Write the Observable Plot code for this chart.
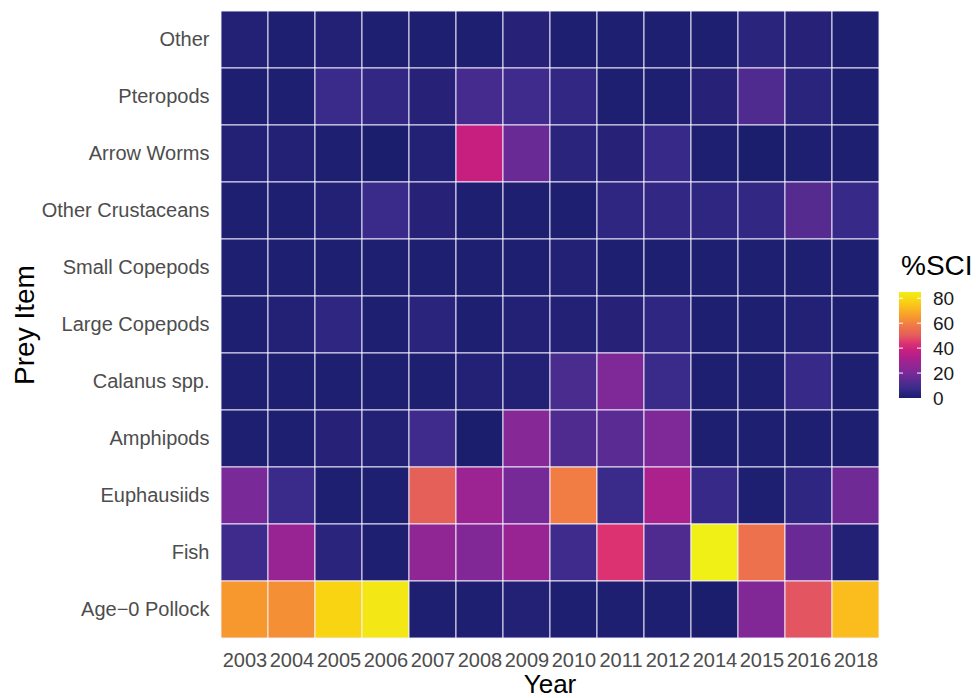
<!DOCTYPE html>
<html>
<head>
<meta charset="utf-8">
<script src="https://cdn.jsdelivr.net/npm/d3@7"></script>
<script src="https://cdn.jsdelivr.net/npm/@observablehq/plot@0.6"></script>
<style>
  html, body { margin: 0; padding: 0; background: #fff; overflow: hidden; }
  #chart { position: relative; width: 976px; height: 698px; }
</style>
</head>
<body>
<div id="chart"></div>
<script>
const years = ["2003","2004","2005","2006","2007","2008","2009","2010","2011","2012","2014","2015","2016","2018"];
const prey = ["Other","Pteropods","Arrow Worms","Other Crustaceans","Small Copepods","Large Copepods","Calanus spp.","Amphipods","Euphausiids","Fish","Age\u22120 Pollock"];

// %SCI values per prey item, in the order of `years`
const other        = [2, 1, 2, 1, 1, 1, 3, 1, 1, 1, 1, 4, 3, 1];
const pteropods    = [1, 1, 8, 6, 3, 10, 9, 6, 1, 1, 3, 12, 4, 1];
const arrowWorms   = [2, 2, 1, 0, 2, 38, 17, 4, 3, 7, 1, 0, 1, 1];
const otherCrust   = [1, 1, 2, 8, 3, 1, 1, 1, 5, 6, 5, 6, 13, 7];
const smallCope    = [1, 1, 1, 1, 1, 1, 1, 2, 1, 1, 1, 1, 1, 1];
const largeCope    = [1, 2, 5, 1, 4, 1, 2, 2, 3, 5, 1, 1, 2, 1];
const calanus      = [1, 1, 1, 1, 1, 2, 2, 11, 21, 8, 1, 1, 7, 1];
const amphipods    = [1, 1, 3, 2, 9, 0, 23, 12, 14, 21, 1, 1, 1, 1];
const euphausiids  = [20, 8, 1, 1, 51, 28, 19, 59, 8, 32, 7, 1, 5, 18];
const fish         = [9, 27, 4, 1, 25, 22, 27, 9, 44, 12, 85, 56, 17, 2];
const pollock      = [65, 63, 78, 83, 1, 1, 2, 1, 1, 1, 0, 22, 49, 73];

const series = [other, pteropods, arrowWorms, otherCrust, smallCope, largeCope, calanus, amphipods, euphausiids, fish, pollock];

// colour ramp (plasma-like, as printed in the reference)
const colorStops  = [0, 8, 20, 30, 38, 44, 50, 58, 65, 73, 78, 85];
const colorValues = ["#1b1d6d", "#3a2b8b", "#7a2a98", "#a32290", "#c61f80", "#dc3272", "#e45c5c", "#f07848", "#f7982f", "#fbbd1e", "#f9d413", "#f0ef16"];
const legendTicks = [0, 20, 40, 60, 80];

const table = [];
prey.forEach((p, i) => years.forEach((y, j) => table.push({prey: p, year: y, value: series[i][j]})));

const font = "'Liberation Sans', Arial, Helvetica, sans-serif";

const plot = Plot.plot({
  width: 976,
  height: 698,
  marginLeft: 219,
  marginRight: 96,
  marginTop: 6,
  marginBottom: 56,
  style: {fontFamily: font, background: "white", overflow: "visible"},
  x: {domain: years, padding: 0, label: null},
  y: {domain: prey, padding: 0, label: null},
  color: {type: "linear", domain: colorStops, range: colorValues, clamp: true},
  marks: [
    Plot.cell(table, {x: "year", y: "prey", fill: "value", stroke: "#f4f2ff", strokeWidth: 0.9, inset: 0}),
    Plot.axisX({tickSize: 0, tickPadding: 10, fontSize: 20, color: "#4d4d4d", label: null}),
    Plot.axisY({tickSize: 0, tickPadding: 10, fontSize: 20, color: "#4d4d4d", label: null})
  ]
});

document.getElementById("chart").appendChild(plot);

const svg = d3.select(plot);
const color = plot.scale("color");

// Axis titles
svg.append("text")
  .attr("x", 550).attr("y", 693)
  .attr("text-anchor", "middle")
  .attr("font-family", font).attr("font-size", 26).attr("fill", "#000")
  .text("Year");

svg.append("text")
  .attr("transform", "translate(34,325) rotate(-90)")
  .attr("text-anchor", "middle")
  .attr("font-family", font).attr("font-size", 28).attr("fill", "#000")
  .text("Prey Item");

// Legend (vertical colorbar)
const lx = 899, lw = 22, ly0 = 398, ly1 = 292;
const domMin = colorStops[0], domMax = colorStops[colorStops.length - 1];
const ly = d3.scaleLinear().domain([domMin, domMax]).range([ly0, ly1]);

svg.append("text")
  .attr("x", 901).attr("y", 275)
  .attr("text-anchor", "start")
  .attr("font-family", font).attr("font-size", 28).attr("fill", "#000")
  .text("%SCI");

const grad = svg.append("defs").append("linearGradient")
  .attr("id", "sciGrad").attr("x1", 0).attr("y1", 1).attr("x2", 0).attr("y2", 0);
d3.range(0, 1.0001, 0.025).forEach(t => {
  const v = domMin + t * (domMax - domMin);
  grad.append("stop").attr("offset", t).attr("stop-color", color.apply(v));
});

svg.append("rect")
  .attr("x", lx).attr("y", ly1).attr("width", lw).attr("height", ly0 - ly1)
  .attr("fill", "url(#sciGrad)");

legendTicks.forEach(v => {
  const y = ly(v);
  if (v > 0) {
    svg.append("line").attr("x1", lx).attr("x2", lx + 4).attr("y1", y).attr("y2", y)
      .attr("stroke", "white").attr("stroke-width", 1);
    svg.append("line").attr("x1", lx + lw - 4).attr("x2", lx + lw).attr("y1", y).attr("y2", y)
      .attr("stroke", "white").attr("stroke-width", 1);
  }
  svg.append("text")
    .attr("x", 933).attr("y", y).attr("dy", "0.36em")
    .attr("text-anchor", "start")
    .attr("font-family", font).attr("font-size", 19).attr("fill", "#1a1a1a")
    .text(v);
});
</script>
</body>
</html>
